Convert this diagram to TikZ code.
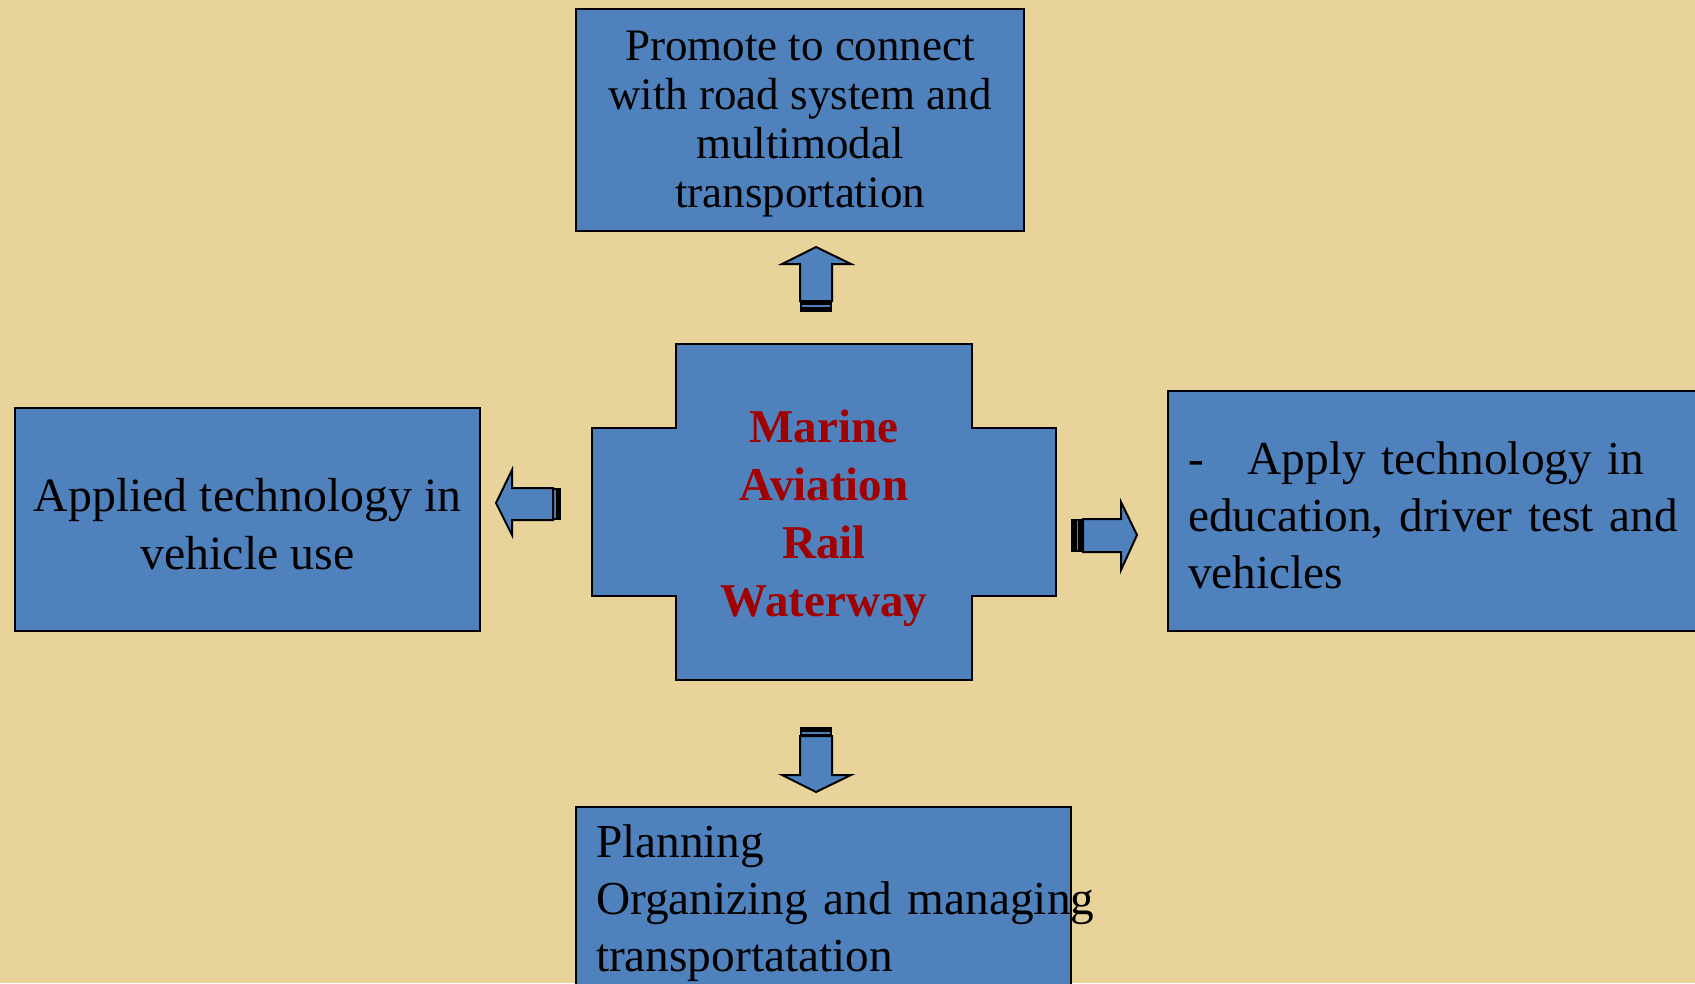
\documentclass[tikz,border=0pt]{standalone}
\usepackage{fontspec}
\setmainfont{Liberation Serif}
\usetikzlibrary{positioning}
\definecolor{boxblue}{RGB}{79,129,189}
\definecolor{hubred}{RGB}{160,0,0}
\definecolor{papyrus}{RGB}{232,211,155}

\begin{document}
\begin{tikzpicture}[x=1pt,y=1pt]
    \tikzstyle{every node}+=[inner sep=0pt]
    \tikzstyle{panel}=[draw=black,line width=1.6pt,fill=boxblue]
    \tikzstyle{paneltext}=[font=\frenchspacing\fontsize{47.3}{57.3}\selectfont]
    \tikzstyle{blockarrow}=[draw=black,line width=2pt,fill=boxblue,line join=miter]
    \useasboundingbox (0,0) rectangle (1695,-983);
    \fill [papyrus] (0,0) rectangle (1695,-983);
    \clip (0,0) rectangle (1695,-983);
    % outer boxes
    \node [panel,minimum width=448,minimum height=222] (promote) at (800,-120) {};
    \node [paneltext,align=center,font=\fontsize{45}{49}\selectfont] (promote text) at ([yshift=-4.5]promote.center) {Promote to connect\\with road system and\\multimodal\\transportation};
    \node [panel,minimum width=465,minimum height=223] (vehicle) at (247.5,-519.5) {};
    \node [paneltext,align=center,font=\fontsize{47.8}{57.3}\selectfont] (vehicle text) at ([yshift=-4.5]vehicle.center) {Applied technology in\\vehicle use};
    \node [panel,minimum width=532,minimum height=240] (education) at (1434,-511) {};
    \node [paneltext,text width=492,align=left] (education text) at ([yshift=-4.5]education.center) {\mbox{-\hspace{44pt}Apply technology in}\\\mbox{education, driver test and}\\vehicles};
    \node [panel,minimum width=495,minimum height=183] (planning) at (823.5,-898.5) {};
    \node [paneltext,text width=455,align=left] (planning text) at ([yshift=-4.5]planning.center) {Planning\\\mbox{Organizing and managing}\\transportatation};
    % centre cross
    \draw [panel] (676,-344) -- (972,-344) -- (972,-428) -- (1056,-428) -- (1056,-596) -- (972,-596) -- (972,-680) -- (676,-680) -- (676,-596) -- (592,-596) -- (592,-428) -- (676,-428) -- cycle;
    \node [text=hubred,align=center,font=\bfseries\fontsize{47}{58}\selectfont] (hub) at (824,-518.5) {Marine\\Aviation\\Rail\\Waterway};
    % up arrow
    \fill [black] (800,-301) rectangle (832,-312);
    \draw [boxblue,line width=2pt] (802,-305.5) -- (830,-305.5);
    \draw [blockarrow] (816,-247) -- (851,-264) -- (832,-264) -- (832,-301) -- (800,-301) -- (800,-264) -- (782,-264) -- cycle;
    % left arrow
    \fill [black] (553,-488) rectangle (561,-520);
    \draw [boxblue,line width=1.5pt] (555,-490) -- (555,-518);
    \draw [blockarrow] (496,-503) -- (512,-470) -- (512,-488) -- (553,-488) -- (553,-520) -- (512,-520) -- (512,-535) -- cycle;
    % right arrow
    \fill [black] (1071,-519) rectangle (1083,-552);
    \draw [boxblue,line width=1.5pt] (1077.5,-521) -- (1077.5,-550);
    \draw [blockarrow] (1137,-535) -- (1121,-502) -- (1121,-519) -- (1083,-519) -- (1083,-552) -- (1121,-552) -- (1121,-570) -- cycle;
    % down arrow
    \fill [black] (800,-727) rectangle (832,-736);
    \draw [boxblue,line width=1.5pt] (802,-733) -- (830,-733);
    \draw [blockarrow] (816,-792) -- (851,-775) -- (832,-775) -- (832,-736) -- (800,-736) -- (800,-775) -- (782,-775) -- cycle;
\end{tikzpicture}
\end{document}
